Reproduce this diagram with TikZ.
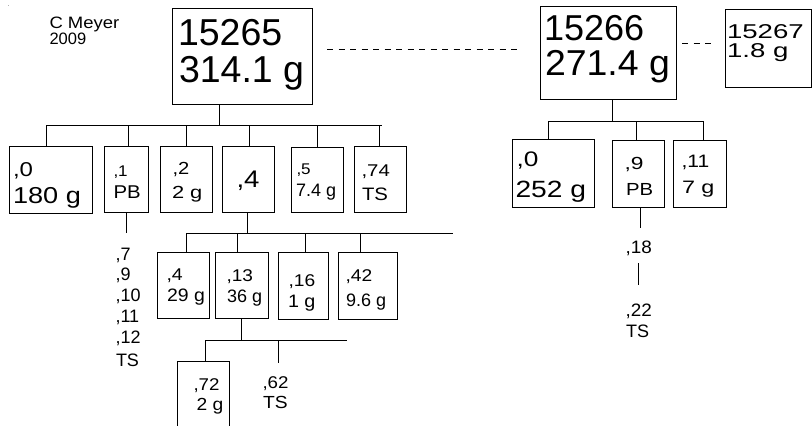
\documentclass[tikz,border=0pt]{standalone}
\usepackage{fontspec}
\setmainfont{Liberation Sans}
\usetikzlibrary{fit}
\tikzset{
  bx/.style={draw=black, line width=0.8pt, inner sep=0pt, outer sep=0pt},
  ln/.style={draw=black, line width=0.8pt},
  dsh/.style={draw=black, line width=0.8pt, dash pattern=on 6pt off 5.5pt},
  tx/.style={anchor=base west, inner sep=0pt, outer sep=0pt, text=black},
}
\newcommand\Tx[6]{\node[tx] (#1) at (#2,#3) {\scalebox{#5}[1]{\fontsize{#4}{#4}\selectfont #6}};}
\begin{document}
\begin{tikzpicture}[x=1pt,y=-1pt]
\useasboundingbox (0,0) rectangle (812,426);
\fill[gray!60] (7.5,4.5) rectangle (8.5,5.5);
% author (base anchor = last line)
\node[tx, align=left, font=\fontsize{16.5}{14.5}\selectfont] (cm) at (49.5,44.5) {\scalebox{1.12}[1]{C Meyer}\\2009};
% top boxes
\node[bx, fit={(172,8) (312,104)}] (b15265) {};
\node[bx, fit={(540,6) (676,99)}] (b15266) {};
\node[bx, fit={(725,9) (811,87)}] (b15267) {};
\Tx{ta1}{178}{45}{37.5}{1}{15265}
\Tx{ta2}{179}{82}{37.5}{1}{314.1 g}
\Tx{tb1}{544}{40}{36}{1}{15266}
\Tx{tb2}{545}{75}{36}{1.04}{271.4 g}
\Tx{tc1}{727}{38.5}{20}{1.38}{15267}
\Tx{tc2}{727}{57}{20}{1.38}{1.8 g}
% dashed links
\coordinate (da1) at (327,49);
\coordinate (da2) at (520,49);
\coordinate (db1) at (682,43);
\coordinate (db2) at (712,43);
\draw[dsh] (da1) -- (da2);
\draw[dsh] (db1) -- (db2);
% row 1 boxes
\node[bx, fit={(9,146) (92,213)}] (r1a) {};
\node[bx, fit={(104,146) (148,212)}] (r1b) {};
\node[bx, fit={(160,146) (212,212)}] (r1c) {};
\node[bx, fit={(222,146) (274,212)}] (r1d) {};
\node[bx, fit={(291,147) (343,212)}] (r1e) {};
\node[bx, fit={(354,146) (406,212)}] (r1f) {};
\Tx{a1}{13}{176}{20}{1.2}{,0}
\Tx{a2}{13}{203}{23}{1.18}{180 g}
\Tx{b1}{113.5}{176}{15.5}{1.1}{,1}
\Tx{b2}{113.5}{198}{18.5}{1.1}{PB}
\Tx{c1}{172.5}{174}{17.5}{1.15}{,2}
\Tx{c2}{172}{198}{17.5}{1.25}{2 g}
\Tx{d1}{236.5}{187}{24}{1.15}{,4}
\Tx{e1}{296.5}{174}{15.5}{1.1}{,5}
\Tx{e2}{296}{196}{18}{1.0}{7.4 g}
\Tx{f1}{361.5}{176.5}{17}{1.2}{,74}
\Tx{f2}{362}{200}{18}{1.13}{TS}
% bus 1
\coordinate (j1) at (219,125);
\coordinate (bus1L) at (46,125);
\coordinate (bus1R) at (382,125);
\draw[ln] (b15265.south -| j1) -- (j1);
\draw[ln] (bus1L) -- (bus1R);
\foreach \n/\xx in {r1a/46, r1b/128, r1c/186, r1d/249, r1e/317, r1f/379}{
  \coordinate (q\n) at (\xx,125);
  \draw[ln] (q\n) -- (q\n |- \n.north);
}
% right row
\node[bx, fit={(512,139) (594,207)}] (r2a) {};
\node[bx, fit={(612,140) (664,207)}] (r2b) {};
\node[bx, fit={(673,140) (726,207)}] (r2c) {};
\Tx{g1}{516.5}{166}{21}{1.25}{,0}
\Tx{g2}{515.5}{197}{23.5}{1.2}{252 g}
\Tx{h1}{624.5}{169}{17.5}{1.3}{,9}
\Tx{h2}{626}{195}{17.5}{1.16}{PB}
\Tx{i1}{681.5}{167}{18}{1.17}{,11}
\Tx{i2}{682}{193}{18}{1.3}{7 g}
\coordinate (j2) at (612,121);
\coordinate (bus2L) at (548,121);
\coordinate (bus2R) at (704,121);
\draw[ln] (b15266.south -| j2) -- (j2);
\draw[ln] (bus2L) -- (bus2R);
\foreach \n/\xx in {r2a/548, r2b/636, r2c/703}{
  \coordinate (q\n) at (\xx,121);
  \draw[ln] (q\n) -- (q\n |- \n.north);
}
% ,9 chain
\coordinate (k9) at (640,228);
\draw[ln] (r2b.south -| k9) -- (k9);
\Tx{n18}{625.5}{253}{18}{1.05}{,18}
\coordinate (k18a) at (638,263);
\coordinate (k18b) at (638,285);
\draw[ln] (k18a) -- (k18b);
\Tx{n22}{625.5}{316}{18}{1.05}{,22}
\Tx{n22b}{626}{337}{18}{1.0}{TS}
% ,1 chain
\coordinate (k1) at (126,233);
\draw[ln] (r1b.south -| k1) -- (k1);
\Tx{p7}{115.5}{260}{18}{1.0}{,7}
\Tx{p9}{115.5}{280.5}{18}{1.0}{,9}
\Tx{p10}{115.5}{301}{18}{1.0}{,10}
\Tx{p11}{115.5}{322}{18}{1.0}{,11}
\Tx{p12}{115.5}{343}{18}{1.0}{,12}
\Tx{pts}{116}{366}{18}{1.0}{TS}
% row 2
\coordinate (j3) at (247,233);
\coordinate (bus3L) at (186,233);
\coordinate (bus3R) at (453,233);
\draw[ln] (r1d.south -| j3) -- (j3);
\draw[ln] (bus3L) -- (bus3R);
\node[bx, fit={(157,252) (209,318)}] (s1) {};
\node[bx, fit={(215,252) (268,318)}] (s2) {};
\node[bx, fit={(278,252) (328,319)}] (s3) {};
\node[bx, fit={(338,252) (397,319)}] (s4) {};
\foreach \n/\xx in {s1/186, s2/237, s3/305, s4/360}{
  \coordinate (q\n) at (\xx,233);
  \draw[ln] (q\n) -- (q\n |- \n.north);
}
\Tx{u1}{166.5}{280}{17}{1.15}{,4}
\Tx{u2}{167}{301}{18}{1.08}{29 g}
\Tx{v1}{226.5}{281}{17}{1.12}{,13}
\Tx{v2}{227}{302}{18}{1.0}{36 g}
\Tx{w1}{288.5}{286}{17}{1.13}{,16}
\Tx{w2}{288}{307}{18}{1.1}{1 g}
\Tx{x1}{345.5}{281}{17}{1.13}{,42}
\Tx{x2}{346}{306}{18}{1.0}{9.6 g}
% row 3
\coordinate (j4) at (241,340);
\coordinate (bus4L) at (205,340);
\coordinate (bus4R) at (347,340);
\draw[ln] (s2.south -| j4) -- (j4);
\draw[ln] (bus4L) -- (bus4R);
\node[bx, fit={(177,361) (229,440)}] (t1) {};
\draw[ln] (bus4L) -- (bus4L |- t1.north);
\coordinate (k62a) at (278,340);
\coordinate (k62b) at (278,363);
\draw[ln] (k62a) -- (k62b);
\Tx{y1}{193.5}{390}{17}{1.1}{,72}
\Tx{y2}{196.5}{410}{17.5}{1.1}{2 g}
\Tx{z1}{262.5}{388}{17}{1.1}{,62}
\Tx{z2}{263}{408}{17.5}{1.1}{TS}
\end{tikzpicture}
\end{document}
